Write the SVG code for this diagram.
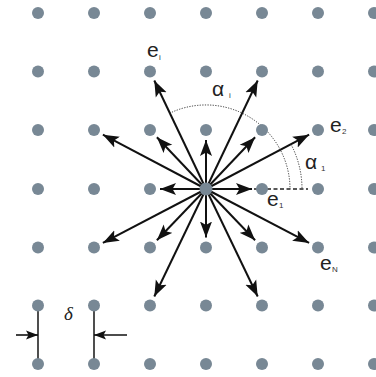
<svg xmlns="http://www.w3.org/2000/svg" width="376" height="377" viewBox="0 0 376 377">
<style>
.dot{fill:#788895}
.arr{stroke:#111;stroke-width:2;fill:none;marker-end:url(#ah)}
.lbl{font-family:"Liberation Sans",Arial,sans-serif;font-size:21px;fill:#222}
.sub{font-family:"Liberation Sans",Arial,sans-serif;font-size:8px;fill:#333}
.arc{stroke:#333;stroke-width:1;fill:none;stroke-dasharray:1.2 1.4}
</style>
<defs>
<marker id="ah" markerUnits="userSpaceOnUse" markerWidth="18" markerHeight="13" refX="16" refY="6.5" orient="auto">
<path d="M0,0.5 L16,6.5 L0,12.5 L3.5,6.5 z" fill="#111"/>
</marker>
<marker id="ahs" markerUnits="userSpaceOnUse" markerWidth="14" markerHeight="10" refX="12" refY="5" orient="auto">
<path d="M0,0.5 L12,5 L0,9.5 L2.5,5 z" fill="#111"/>
</marker>
</defs>
<rect width="376" height="377" fill="#fff"/>
<g id="connectors">
<line class="arr" x1="206" y1="189" x2="206" y2="140"/>
<line class="arr" x1="206" y1="189" x2="206" y2="237.5"/>
<line class="arr" x1="206" y1="189" x2="252" y2="189"/>
<line class="arr" x1="206" y1="189" x2="160" y2="189"/>
<line class="arr" x1="206" y1="189" x2="255.1" y2="137.3"/>
<line class="arr" x1="206" y1="189" x2="156.9" y2="137.3"/>
<line class="arr" x1="206" y1="189" x2="255.1" y2="240.3"/>
<line class="arr" x1="206" y1="189" x2="156.9" y2="240.3"/>
<line class="arr" x1="206" y1="189" x2="309.1" y2="134.7"/>
<line class="arr" x1="206" y1="189" x2="102.9" y2="134.7"/>
<line class="arr" x1="206" y1="189" x2="309.1" y2="242.9"/>
<line class="arr" x1="206" y1="189" x2="102.9" y2="242.9"/>
<line class="arr" x1="206" y1="189" x2="257.7" y2="80.5"/>
<line class="arr" x1="206" y1="189" x2="154.3" y2="80.5"/>
<line class="arr" x1="206" y1="189" x2="257.7" y2="296.5"/>
<line class="arr" x1="206" y1="189" x2="154.3" y2="296.5"/>
<line x1="254" y1="189" x2="308" y2="189" stroke="#222" stroke-width="1.6" stroke-dasharray="4 2.5"/>
<path class="arc" d="M169.7,113.2 A84,84 0 0 1 290,189"/>
<path class="arc" d="M291,144.3 A96,96 0 0 1 302,189"/>
<line x1="38" y1="305.5" x2="38" y2="364" stroke="#222" stroke-width="1.6"/>
<line x1="94" y1="305.5" x2="94" y2="364" stroke="#222" stroke-width="1.6"/>
<line x1="16" y1="335" x2="38" y2="335" stroke="#111" stroke-width="1.6" marker-end="url(#ahs)"/>
<line x1="127" y1="335" x2="94" y2="335" stroke="#111" stroke-width="1.6" marker-end="url(#ahs)"/>
</g>
<g id="lattice">
<g id="r0"><circle class="dot" cx="38" cy="13" r="6"/><circle class="dot" cx="94" cy="13" r="6"/><circle class="dot" cx="150" cy="13" r="6"/><circle class="dot" cx="206" cy="13" r="6"/><circle class="dot" cx="262" cy="13" r="6"/><circle class="dot" cx="318" cy="13" r="6"/><circle class="dot" cx="374" cy="13" r="6"/></g>
<g id="r1"><circle class="dot" cx="38" cy="71.5" r="6"/><circle class="dot" cx="94" cy="71.5" r="6"/><circle class="dot" cx="150" cy="71.5" r="6"/><circle class="dot" cx="206" cy="71.5" r="6"/><circle class="dot" cx="262" cy="71.5" r="6"/><circle class="dot" cx="318" cy="71.5" r="6"/><circle class="dot" cx="374" cy="71.5" r="6"/></g>
<g id="r2"><circle class="dot" cx="38" cy="130" r="6"/><circle class="dot" cx="94" cy="130" r="6"/><circle class="dot" cx="150" cy="130" r="6"/><circle class="dot" cx="206" cy="130" r="6"/><circle class="dot" cx="262" cy="130" r="6"/><circle class="dot" cx="318" cy="130" r="6"/><circle class="dot" cx="374" cy="130" r="6"/></g>
<g id="r3"><circle class="dot" cx="38" cy="189" r="6"/><circle class="dot" cx="94" cy="189" r="6"/><circle class="dot" cx="150" cy="189" r="6"/><circle class="dot" cx="262" cy="189" r="6"/><circle class="dot" cx="318" cy="189" r="6"/><circle class="dot" cx="374" cy="189" r="6"/></g>
<g id="center"><circle class="dot" cx="206" cy="189" r="6.5"/></g>
<g id="r4"><circle class="dot" cx="38" cy="247.5" r="6"/><circle class="dot" cx="94" cy="247.5" r="6"/><circle class="dot" cx="150" cy="247.5" r="6"/><circle class="dot" cx="206" cy="247.5" r="6"/><circle class="dot" cx="262" cy="247.5" r="6"/><circle class="dot" cx="318" cy="247.5" r="6"/><circle class="dot" cx="374" cy="247.5" r="6"/></g>
<g id="r5"><circle class="dot" cx="38" cy="305.5" r="6"/><circle class="dot" cx="94" cy="305.5" r="6"/><circle class="dot" cx="150" cy="305.5" r="6"/><circle class="dot" cx="206" cy="305.5" r="6"/><circle class="dot" cx="262" cy="305.5" r="6"/><circle class="dot" cx="318" cy="305.5" r="6"/><circle class="dot" cx="374" cy="305.5" r="6"/></g>
<g id="r6"><circle class="dot" cx="38" cy="364" r="6"/><circle class="dot" cx="94" cy="364" r="6"/><circle class="dot" cx="150" cy="364" r="6"/><circle class="dot" cx="206" cy="364" r="6"/><circle class="dot" cx="262" cy="364" r="6"/><circle class="dot" cx="318" cy="364" r="6"/><circle class="dot" cx="374" cy="364" r="6"/></g>
</g>
<g id="labels">
<text class="lbl" x="147" y="57">e</text><text class="sub" x="159" y="60">i</text>
<text class="lbl" x="212" y="96">α</text><text class="sub" x="229" y="98">i</text>
<text class="lbl" x="330" y="132">e</text><text class="sub" x="342" y="134">2</text>
<text class="lbl" x="305" y="169">α</text><text class="sub" x="321" y="171">1</text>
<text class="lbl" x="267" y="206">e</text><text class="sub" x="279" y="208">1</text>
<text class="lbl" x="320" y="270">e</text><text class="sub" x="332" y="272">N</text>
<text x="64" y="320" font-family="Liberation Serif,serif" font-style="italic" font-size="19" fill="#222">δ</text>
</g>
</svg>
